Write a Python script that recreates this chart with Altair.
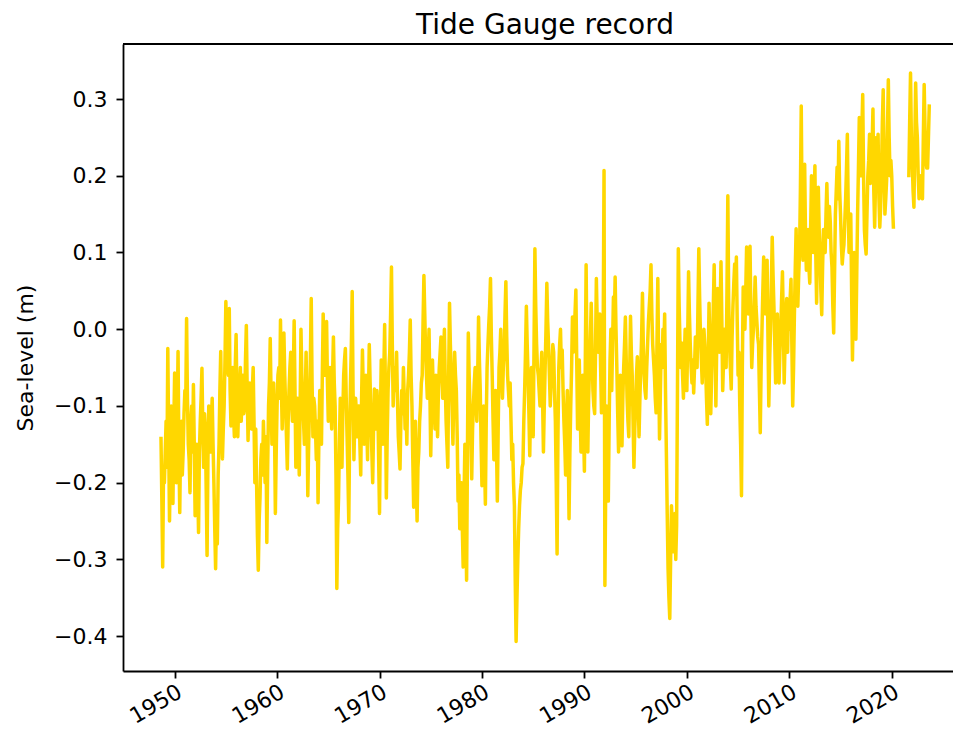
import altair as alt
import pandas as pd

# Monthly sea-level (m); one row per year.
# The 1940s list starts in September 1948; None marks the data gap (2020-2021).
sl_1940s = [-0.14, -0.22, -0.31, -0.18,
            -0.20, -0.16, -0.12, -0.18, -0.025, -0.14, -0.25, -0.17, -0.10, -0.15, -0.227, -0.13]
sl_1950s = [-0.057, -0.14, -0.20, -0.12, -0.029, -0.16, -0.239, -0.14, -0.12, -0.19, -0.16, -0.11,
            -0.08, -0.10, 0.014, -0.09, -0.15, -0.17, -0.213, -0.12, -0.10, -0.16, -0.072, -0.15,
            -0.243, -0.18, -0.15, -0.20, -0.265, -0.16, -0.12, -0.09, -0.051, -0.13, -0.18, -0.11,
            -0.13, -0.21, -0.295, -0.17, -0.10, -0.14, -0.16, -0.12, -0.09, -0.15, -0.20, -0.26,
            -0.312, -0.24, -0.28, -0.19, -0.15, -0.08, -0.029, -0.12, -0.169, -0.13, -0.10, -0.04,
            0.036, -0.02, -0.05, -0.06, 0.027, -0.08, -0.126, -0.07, -0.05, -0.11, -0.14, -0.05,
            -0.007, -0.09, -0.14, -0.10, -0.08, -0.05, -0.12, -0.09, -0.06, -0.11, -0.10, -0.04,
            0.005, -0.08, -0.145, -0.09, -0.07, -0.11, -0.13, -0.08, -0.05, -0.12, -0.20, -0.13,
            -0.20, -0.27, -0.314, -0.25, -0.22, -0.17, -0.15, -0.19, -0.12, -0.16, -0.20, -0.14,
            -0.278, -0.18, -0.10, -0.07, -0.012, -0.09, -0.15, -0.11, -0.07, -0.13, -0.24, -0.16]
sl_1960s = [-0.10, -0.06, -0.05, -0.09, 0.012, -0.07, -0.13, -0.08, -0.005, -0.06, -0.10, -0.14,
            -0.182, -0.12, -0.08, -0.05, -0.03, -0.09, -0.12, -0.06, 0.011, -0.08, -0.18, -0.13,
            -0.09, -0.14, -0.19, -0.10, 0.0, -0.06, -0.10, -0.12, -0.15, -0.09, -0.03, -0.11,
            -0.217, -0.15, -0.10, -0.04, 0.04, -0.07, -0.14, -0.09, -0.10, -0.13, -0.17, -0.12,
            -0.226, -0.14, -0.08, -0.11, -0.15, -0.06, 0.02, -0.03, -0.06, -0.02, 0.01, -0.07,
            -0.12, -0.08, -0.05, -0.10, -0.13, -0.06, -0.01, -0.07, -0.10, -0.19, -0.338, -0.26,
            -0.22, -0.15, -0.09, -0.13, -0.18, -0.11, -0.06, -0.04, -0.025, -0.09, -0.14, -0.19,
            -0.252, -0.14, -0.07, -0.02, 0.049, -0.08, -0.17, -0.12, -0.09, -0.11, -0.14, -0.10,
            -0.10, -0.15, -0.19, -0.09, -0.027, -0.08, -0.15, -0.11, -0.06, -0.12, -0.17, -0.09,
            -0.02, -0.07, -0.12, -0.16, -0.20, -0.13, -0.078, -0.11, -0.13, -0.08, -0.10, -0.17]
sl_1970s = [-0.24, -0.12, -0.04, -0.10, -0.15, -0.06, 0.006, -0.09, -0.22, -0.14, -0.08, -0.05,
            -0.03, 0.02, 0.081, -0.02, -0.10, -0.06, -0.05, -0.08, -0.03, -0.09, -0.14, -0.16,
            -0.182, -0.12, -0.08, -0.11, -0.05, -0.09, -0.13, -0.10, -0.15, -0.08, -0.06, -0.03,
            0.012, -0.06, -0.10, -0.17, -0.232, -0.15, -0.12, -0.19, -0.25, -0.18, -0.16, -0.12,
            -0.10, -0.07, -0.06, 0.01, 0.07, 0.02, -0.03, -0.06, -0.09, -0.04, 0.0, -0.08,
            -0.165, -0.10, -0.04, -0.08, -0.10, -0.13, -0.06, -0.09, -0.14, -0.08, -0.05, -0.03,
            -0.01, -0.05, -0.09, -0.04, 0.0, -0.07, -0.12, -0.15, -0.18, -0.06, 0.034, -0.02,
            -0.06, -0.10, -0.15, -0.08, -0.03, -0.06, -0.08, -0.14, -0.224, -0.19, -0.26, -0.21,
            -0.20, -0.26, -0.31, -0.22, -0.15, -0.24, -0.327, -0.16, -0.005, -0.06, -0.10, -0.14,
            -0.195, -0.13, -0.10, -0.07, -0.05, -0.09, -0.12, -0.06, 0.016, -0.04, -0.08, -0.15]
sl_1980s = [-0.204, -0.14, -0.10, -0.17, -0.228, -0.12, -0.05, -0.02, 0.007, 0.03, 0.066, -0.01,
            -0.06, -0.12, -0.17, -0.11, -0.08, -0.15, -0.224, -0.13, -0.05, -0.03, 0.0, -0.06,
            -0.09, -0.05, -0.03, 0.02, 0.062, -0.01, -0.06, -0.08, -0.10, -0.07, -0.12, -0.17,
            -0.15, -0.20, -0.23, -0.33, -0.407, -0.35, -0.30, -0.26, -0.23, -0.21, -0.20, -0.18,
            -0.175, -0.12, -0.08, -0.03, 0.03, -0.02, -0.06, -0.11, -0.165, -0.09, -0.05, -0.10,
            -0.14, -0.02, 0.105, 0.03, -0.02, -0.05, -0.06, -0.08, -0.10, -0.06, -0.03, -0.09,
            -0.16, -0.10, -0.05, 0.0, 0.06, 0.01, -0.02, -0.06, -0.10, -0.07, -0.05, -0.02,
            -0.03, -0.08, -0.12, -0.20, -0.293, -0.14, -0.05, -0.02, 0.0, -0.05, -0.027, -0.08,
            -0.12, -0.15, -0.19, -0.12, -0.08, -0.15, -0.247, -0.16, -0.10, -0.05, 0.016, -0.03,
            -0.01, 0.02, 0.051, -0.04, -0.13, -0.08, -0.04, -0.10, -0.16, -0.11, -0.06, -0.13]
sl_1990s = [-0.185, -0.05, 0.084, -0.04, -0.16, -0.09, -0.05, -0.01, 0.034, -0.03, -0.08, -0.10,
            -0.11, -0.03, 0.066, 0.01, -0.03, -0.02, 0.02, -0.05, -0.109, -0.04, 0.0, 0.207,
            -0.334, -0.20, -0.10, -0.16, -0.224, -0.12, -0.04, 0.0, -0.08, -0.02, 0.042, 0.01,
            0.068, 0.0, -0.05, -0.11, -0.16, -0.10, -0.06, -0.12, -0.152, -0.09, -0.05, -0.02,
            0.016, -0.04, -0.09, -0.12, -0.14, -0.06, 0.017, -0.03, -0.06, -0.12, -0.18, -0.13,
            -0.10, -0.06, -0.036, -0.09, -0.14, -0.09, -0.05, -0.01, 0.047, -0.02, -0.06, -0.08,
            -0.09, -0.05, -0.02, 0.01, 0.03, 0.05, 0.084, 0.02, -0.02, -0.04, -0.06, -0.09,
            -0.109, -0.02, 0.066, -0.05, -0.143, -0.08, -0.02, -0.05, 0.0, -0.03, 0.02, -0.08,
            -0.16, -0.24, -0.312, -0.35, -0.377, -0.30, -0.23, -0.26, -0.29, -0.27, -0.24, -0.30,
            -0.256, -0.08, 0.105, 0.03, -0.02, -0.05, -0.018, -0.06, -0.09, -0.04, 0.0, -0.03]
sl_2000s = [-0.08, -0.01, 0.075, 0.02, -0.02, -0.05, -0.07, -0.04, -0.083, -0.05, -0.01, -0.03,
            -0.05, 0.03, 0.105, 0.04, -0.01, -0.04, -0.07, -0.03, 0.0, -0.02, -0.05, -0.09,
            -0.124, -0.04, 0.034, -0.03, -0.11, -0.06, -0.02, 0.03, 0.084, -0.01, -0.10, -0.02,
            0.053, 0.0, -0.03, 0.03, 0.088, 0.01, -0.08, -0.04, 0.0, -0.03, -0.05, 0.05,
            0.174, 0.04, -0.02, -0.05, -0.078, -0.01, 0.03, 0.06, 0.085, 0.05, 0.094, 0.01,
            -0.06, -0.03, -0.10, -0.15, -0.217, -0.05, 0.055, 0.02, 0.0, 0.05, 0.107, 0.06,
            0.02, 0.07, 0.108, 0.02, -0.05, -0.02, 0.0, 0.03, 0.068, 0.03, 0.01, -0.01,
            -0.02, -0.08, -0.135, -0.05, 0.0, 0.05, 0.094, 0.04, 0.02, 0.05, 0.09, -0.01,
            -0.10, -0.04, 0.0, 0.06, 0.12, 0.07, 0.03, -0.02, -0.07, -0.03, 0.02, -0.02,
            -0.07, -0.03, 0.0, 0.04, 0.075, 0.01, -0.07, -0.02, 0.02, 0.04, -0.03, 0.03]
sl_2010s = [0.0, 0.04, 0.065, -0.02, -0.10, -0.05, 0.02, 0.08, 0.131, 0.06, 0.03, 0.07,
            0.10, 0.18, 0.291, 0.15, 0.09, 0.14, 0.215, 0.12, 0.077, 0.10, 0.13, 0.08,
            0.06, 0.13, 0.20, 0.14, 0.10, 0.16, 0.213, 0.10, 0.034, 0.11, 0.185, 0.13,
            0.10, 0.05, 0.019, 0.08, 0.13, 0.11, 0.10, 0.15, 0.19, 0.14, 0.12, 0.16,
            0.14, 0.10, 0.081, 0.03, -0.005, 0.07, 0.15, 0.18, 0.211, 0.17, 0.245, 0.18,
            0.15, 0.11, 0.085, 0.10, 0.11, 0.14, 0.17, 0.21, 0.254, 0.16, 0.10, 0.13,
            0.15, 0.05, -0.04, 0.04, 0.10, 0.05, -0.013, 0.07, 0.15, 0.21, 0.276, 0.23,
            0.20, 0.26, 0.306, 0.20, 0.129, 0.11, 0.098, 0.15, 0.20, 0.22, 0.254, 0.19,
            0.20, 0.24, 0.287, 0.18, 0.133, 0.19, 0.25, 0.21, 0.254, 0.17, 0.133, 0.16,
            0.20, 0.27, 0.312, 0.22, 0.15, 0.17, 0.194, 0.26, 0.325, 0.25, 0.20, 0.22]
sl_2020s = [0.20, 0.16, 0.131, None, None, None, None, None, None, None, None, None,
            None, None, None, None, None, None, None, None, 0.198, 0.27, 0.334, 0.25,
            0.22, 0.18, 0.159, 0.24, 0.321, 0.27, 0.25, 0.20, 0.17, 0.19, 0.20, 0.18,
            0.17, 0.25, 0.319, 0.26, 0.22, 0.21, 0.21, 0.25, 0.293]

decade_starts = [1948 + 8 / 12, 1950, 1960, 1970, 1980, 1990, 2000, 2010, 2020]
decade_values = [sl_1940s, sl_1950s, sl_1960s, sl_1970s, sl_1980s,
                 sl_1990s, sl_2000s, sl_2010s, sl_2020s]

x_ticks = [1950, 1960, 1970, 1980, 1990, 2000, 2010, 2020]
y_ticks = [-0.4, -0.3, -0.2, -0.1, 0.0, 0.1, 0.2, 0.3]

rows = []
segment = 0
for start, vals in zip(decade_starts, decade_values):
    for i, v in enumerate(vals):
        if v is None:
            if rows and rows[-1]["segment"] == segment:
                segment += 1
            continue
        rows.append({"year": start + i / 12, "level": v, "segment": segment})
df = pd.DataFrame(rows)

FONT = "DejaVu Sans"
PLOT_H = 627

line = alt.Chart(df).mark_line(
    color="#FFD700", strokeWidth=3.5, strokeJoin="round", clip=True
).encode(
    x=alt.X("year:Q",
            scale=alt.Scale(domain=[1944.96, 2025.98], nice=False, zero=False),
            axis=alt.Axis(values=x_ticks, format="d", labelAngle=-30,
                          labelAlign="right", labelBaseline="top",
                          labelPadding=3, title=None)),
    y=alt.Y("level:Q",
            scale=alt.Scale(domain=[-0.4454, 0.3717], nice=False, zero=False),
            axis=alt.Axis(values=y_ticks, format=".1f", labelPadding=9,
                          title="Sea-level (m)", titleX=-98, titleY=PLOT_H / 2,
                          titleBaseline="middle")),
    detail="segment:N",
)

top_spine = alt.Chart(pd.DataFrame({"k": [0]})).mark_rule(
    color="black", strokeWidth=1.8
).encode(x=alt.value(0), x2=alt.value("width"), y=alt.value(0))

chart = alt.layer(line, top_spine).properties(
    width=830,
    height=PLOT_H,
    padding={"left": 115, "top": 36, "right": 0, "bottom": 62},
    autosize=alt.AutoSizeParams(type="none"),
    title=alt.TitleParams("Tide Gauge record", fontSize=28, font=FONT,
                          fontWeight="normal", color="black", offset=3, dx=7),
).configure_view(
    stroke="transparent"
).configure_axis(
    grid=False,
    domainColor="black", domainWidth=1.8,
    tickColor="black", tickWidth=1.8, tickSize=7,
    labelFont=FONT, labelFontSize=22, labelColor="black",
    titleFont=FONT, titleFontSize=22, titleFontWeight="normal", titleColor="black",
)

chart.save("out.html", embed_options={"renderer": "svg", "actions": False})
